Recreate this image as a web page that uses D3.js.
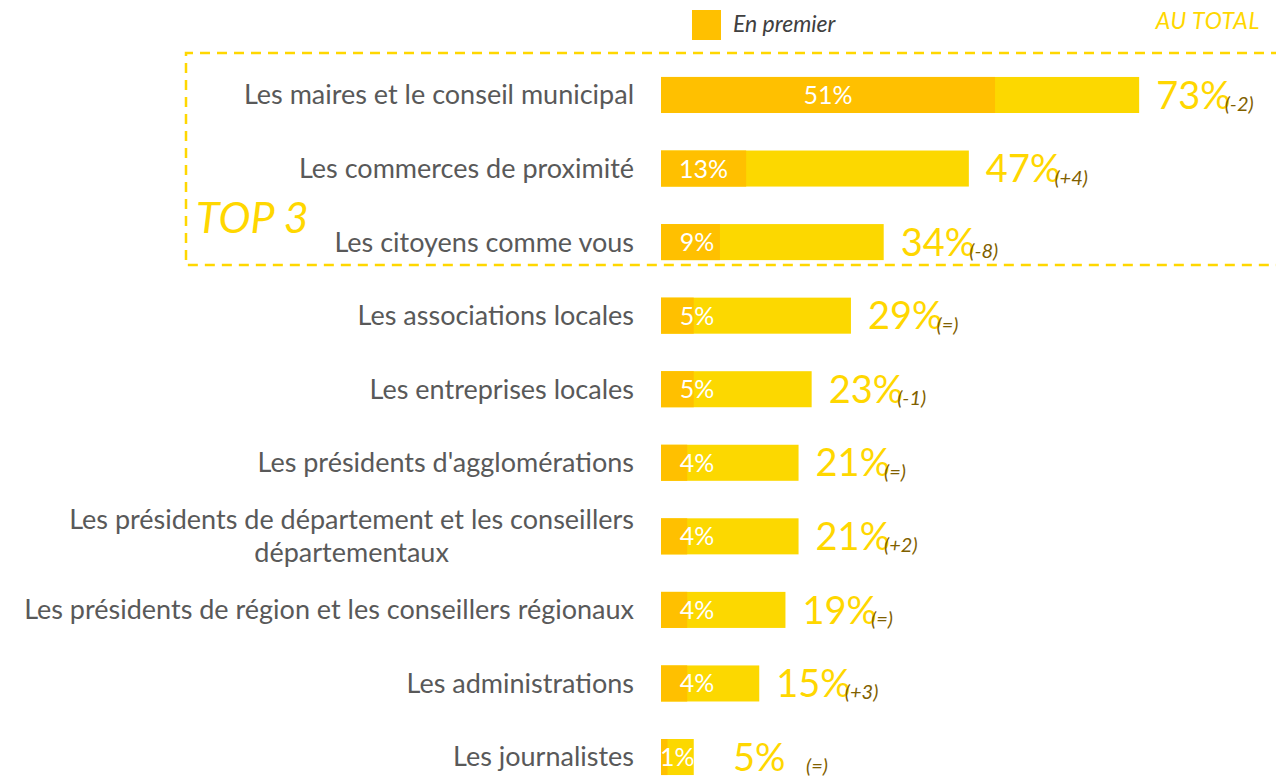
<!DOCTYPE html>
<html>
<head>
<meta charset="utf-8">
<script src="https://cdn.jsdelivr.net/npm/d3@7"></script>
<style>
  body { margin: 0; background: #fff; }
  svg { display: block; font-family: Lato, 'Open Sans', sans-serif; }
</style>
</head>
<body>
<svg></svg>
<script>
const categories = [
  'Les maires et le conseil municipal',
  'Les commerces de proximité',
  'Les citoyens comme vous',
  'Les associations locales',
  'Les entreprises locales',
  'Les présidents d\'agglomérations',
  'Les présidents de département et les conseillers\ndépartementaux',
  'Les présidents de région et les conseillers régionaux',
  'Les administrations',
  'Les journalistes'
]
const firstValues = [51, 13, 9, 5, 5, 4, 4, 4, 4, 1]
const totalValues = [73, 47, 34, 29, 23, 21, 21, 19, 15, 5]
const changes = ['(-2)', '(+4)', '(-8)', '(=)', '(-1)', '(=)', '(+2)', '(=)', '(+3)', '(=)']

const width = 1276
const height = 778

const colorFirst = '#FFC000'
const colorTotal = '#FCD800'
const colorTotalText = '#FFD700'
const colorChange = '#7F6000'
const colorLabel = '#595959'

const data = categories.map((c, i) => ({
  name: c,
  first: firstValues[i],
  total: totalValues[i],
  change: changes[i]
}))

const svg = d3.select('svg')
  .attr('width', width)
  .attr('height', height)

const x = d3.scaleLinear().domain([0, 100]).range([661, 661 + 655])
const y = d3.scaleBand()
  .domain(categories)
  .range([58.2, 793.8])
  .paddingInner(0.51)
  .paddingOuter(0.255)

const bw = y.bandwidth()

// TOP 3 dashed box
const boxTop = y(categories[0]) - 24
const boxBottom = y(categories[2]) + bw + 5
svg.append('path')
  .attr('d', `M${width + 5},${boxTop} H186 V${boxBottom} H${width + 5}`)
  .attr('fill', 'none')
  .attr('stroke', colorTotalText)
  .attr('stroke-width', 2.5)
  .attr('stroke-dasharray', '10,7')

svg.append('text')
  .attr('x', 196)
  .attr('y', 233)
  .attr('font-size', 43)
  .attr('font-style', 'italic')
  .attr('fill', colorTotalText)
  .text('TOP 3')

// Legend
svg.append('rect')
  .attr('x', 692)
  .attr('y', 10)
  .attr('width', 29)
  .attr('height', 30)
  .attr('fill', colorFirst)

svg.append('text')
  .attr('x', 733)
  .attr('y', 32)
  .attr('font-size', 23)
  .attr('font-style', 'italic')
  .attr('fill', '#404040')
  .text('En premier')

svg.append('text')
  .attr('x', 1260)
  .attr('y', 29)
  .attr('text-anchor', 'end')
  .attr('font-size', 23)
  .attr('letter-spacing', 0.6)
  .attr('font-style', 'italic')
  .attr('fill', colorTotalText)
  .text('AU TOTAL')

const rows = svg.selectAll('.row')
  .data(data)
  .enter().append('g')
  .attr('class', 'row')
  .attr('transform', (d) => `translate(0, ${y(d.name)})`)

// Category labels
rows.each(function (d) {
  const lines = d.name.split('\n')
  const g = d3.select(this)
  const first = g.append('text')
    .attr('x', 634)
    .attr('y', bw / 2 - (lines.length - 1) * 16.5)
    .attr('dy', '0.35em')
    .attr('text-anchor', 'end')
    .attr('font-size', 27)
    .attr('fill', colorLabel)
    .text(lines[0])
  if (lines.length > 1) {
    const w = first.node().getComputedTextLength()
    g.append('text')
      .attr('x', 634 - w / 2)
      .attr('y', bw / 2 + 16.5)
      .attr('dy', '0.35em')
      .attr('text-anchor', 'middle')
      .attr('font-size', 27)
      .attr('fill', colorLabel)
      .text(lines[1])
  }
})

// Total bars
rows.append('rect')
  .attr('x', x(0))
  .attr('height', bw)
  .attr('width', (d) => x(d.total) - x(0))
  .attr('fill', colorTotal)

// First choice bars
rows.append('rect')
  .attr('x', x(0))
  .attr('height', bw)
  .attr('width', (d) => x(d.first) - x(0))
  .attr('fill', colorFirst)

// Clip paths so inner labels stay in bar
rows.append('clipPath')
  .attr('id', (d, i) => `clip${i}`)
  .append('rect')
  .attr('x', x(0))
  .attr('height', bw)
  .attr('width', (d) => x(d.total) - x(0))

// Inner labels
rows.append('text')
  .attr('clip-path', (d, i) => `url(#clip${i})`)
  .attr('x', (d) => {
    const darkMid = (x(0) + x(d.first)) / 2
    const totalMid = (x(0) + x(d.total)) / 2
    return Math.min(Math.max(darkMid, x(0) + 36), totalMid)
  })
  .attr('y', bw / 2)
  .attr('dy', '0.36em')
  .attr('text-anchor', 'middle')
  .attr('font-size', 25)
  .attr('fill', '#fff')
  .text((d) => d.first + '%')

// Total labels
const totals = rows.append('text')
  .attr('x', (d) => Math.max(x(d.total) + 17, x(0) + 72))
  .attr('y', bw / 2)
  .attr('dy', '0.36em')
  .attr('font-size', 38)
  .attr('fill', colorTotalText)
  .text((d) => d.total + '%')

// Change labels
rows.append('text')
  .attr('x', function (d, i) {
    const t = totals.nodes()[i]
    const end = +t.getAttribute('x') + t.getComputedTextLength()
    return Math.max(end - 6, x(0) + 145)
  })
  .attr('y', bw / 2 + 16)
  .attr('font-size', 20)
  .attr('font-style', 'italic')
  .attr('fill', colorChange)
  .text((d) => d.change)
</script>
</body>
</html>
